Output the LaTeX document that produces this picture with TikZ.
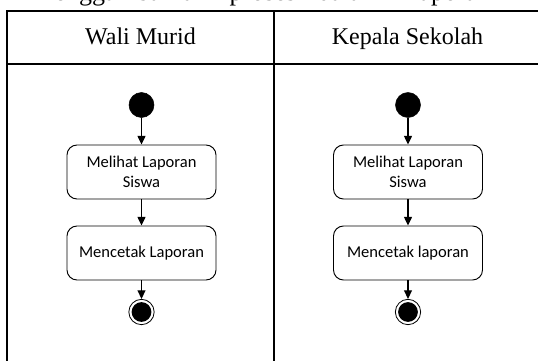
\documentclass[tikz,border=0pt]{standalone}
\usepackage{fontspec}
\setmainfont{Liberation Serif}
\newfontfamily\boxfont{Carlito}
\usetikzlibrary{positioning,calc,arrows.meta}
\tikzset{
  lanefont/.style={font=\fontsize{18}{21}\selectfont},
  actbox/.style={draw, rounded corners=7.5pt, align=center, minimum width=111.75pt, minimum height=40.5pt, inner sep=2pt, line width=0.7pt, font=\boxfont\fontsize{12.4}{15}\selectfont},
  startnode/.style={circle, fill=black, draw=black, minimum size=18.75pt, inner sep=0pt},
  endnode/.style={circle, draw=black, line width=0.6pt, minimum size=19pt, inner sep=0pt, path picture={\fill[black] (path picture bounding box.center) circle (7.4pt);}},
  flowarrow/.style={-{Triangle[length=6.5pt, width=6pt]}, line width=0.9pt},
}

\begin{document}
\begin{tikzpicture}[x=0.75pt, y=-0.75pt]
  \useasboundingbox (0,0) rectangle (538,360);
  % Title, cut off at the top
  \node[anchor=base west, inner sep=0pt, font=\fontsize{19.5}{22}\selectfont] (title) at (34,1) {\makebox[342pt][s]{menggambarkan proses dalam Laporan}};

  % Swimlanes
  \draw[line width=0.9pt] (7,11) rectangle (541,365);
  \draw[line width=0.9pt] (7,64) -- (541,64);
  \draw[line width=0.9pt] (274,11) -- (274,365);
  \node[lanefont, anchor=base] (laneA) at (140.5,45) {Wali Murid};
  \node[lanefont, anchor=base] (laneB) at (407.5,45) {Kepala Sekolah};

  % Wali Murid
  \node[startnode] (startA) at (141.5,105) {};
  \node[actbox] (lihatA) at (141.5,172) {Melihat Laporan\\Siswa};
  \node[actbox] (cetakA) at (141.5,253) {Mencetak Laporan};
  \node[endnode] (endA) at (141.5,312) {};
  \draw[flowarrow] (startA) -- (lihatA);
  \draw[flowarrow] (lihatA) -- (cetakA);
  \draw[flowarrow] (cetakA) -- (endA);

  % Kepala Sekolah
  \node[startnode] (startB) at (408,105) {};
  \node[actbox] (lihatB) at (408,172) {Melihat Laporan\\Siswa};
  \node[actbox] (cetakB) at (408,253) {Mencetak laporan};
  \node[endnode] (endB) at (408,312) {};
  \draw[flowarrow] (startB) -- (lihatB);
  \draw[flowarrow] (lihatB) -- (cetakB);
  \draw[flowarrow] (cetakB) -- (endB);
\end{tikzpicture}
\end{document}
